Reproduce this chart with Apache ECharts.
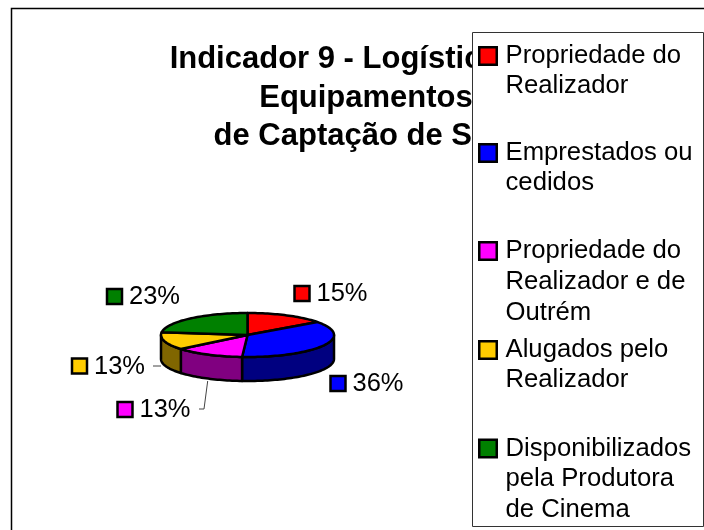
<!DOCTYPE html>
<html><head><meta charset="utf-8">
<style>html,body{margin:0;padding:0;background:#fff}#c{width:704px;height:530px}</style>
<script src="https://cdn.jsdelivr.net/npm/echarts@6/dist/echarts.min.js"></script>
</head><body><div id="c"></div>
<script>
const titleLines = ['Indicador 9 - Logística dos', 'Equipamentos', 'de Captação de Som'];
const categories = ['Propriedade do\nRealizador', 'Emprestados ou\ncedidos', 'Propriedade do\nRealizador e de\nOutrém', 'Alugados pelo\nRealizador', 'Disponibilizados\npela Produtora\nde Cinema'];
const values = [15, 36, 13, 13, 23];
const topColors = ['#FF0000', '#0000FF', '#FF00FF', '#FFCC00', '#008000'];
const sideColors = ['#800000', '#000080', '#800080', '#806600', '#004000'];

// layout, kept apart from the data
const pie = { cx: 247.5, cy: 335, rx: 86.5, ry: 22, depth: 24 };
const labelKeys = [[302, 293.5], [338, 383.5], [125, 409.5], [79.5, 366], [114.5, 296.5]];
const leaders = [null, null, [[207.7, 381], [204, 409], [199, 409]], [[153, 366], [161, 366]], null];
const legendRows = [[29, 30, 30], [29, 30, 30], [31, 31, 30], [29, 30, 31], [30, 31, 30]];
const FONT = '"Liberation Sans", Arial, sans-serif';

const total = values.reduce((a, b) => a + b, 0);
function startAngle(i) {
  let s = 0;
  for (let k = 0; k < i; k++) s += values[k];
  return s / total * Math.PI * 2;
}
function pt(t, dy) {
  return [pie.cx + pie.rx * Math.sin(t), pie.cy - pie.ry * Math.cos(t) + (dy || 0)];
}
function arc(a, b, dy) {
  const n = Math.max(2, Math.ceil(Math.abs(b - a) / 0.03));
  const out = [];
  for (let k = 0; k <= n; k++) out.push(pt(a + (b - a) * k / n, dy));
  return out;
}
function renderSlice(i) {
  return function (params, api) {
    const a0 = startAngle(i);
    const a1 = a0 + api.value(0) / total * Math.PI * 2;
    const children = [];
    const s = Math.max(a0, Math.PI / 2), e = Math.min(a1, Math.PI * 1.5);
    if (e > s) {
      children.push({
        type: 'polygon',
        shape: { points: arc(s, e, 0).concat(arc(e, s, pie.depth)) },
        style: { fill: sideColors[i], stroke: '#000', lineWidth: 2.5, lineJoin: 'round' }
      });
    }
    children.push({
      type: 'polygon',
      shape: { points: [[pie.cx, pie.cy]].concat(arc(a0, a1, 0)) },
      style: { fill: topColors[i], stroke: '#000', lineWidth: 2.5, lineJoin: 'round' }
    });
    if (leaders[i]) {
      children.push({ type: 'polyline', shape: { points: leaders[i] }, style: { fill: null, stroke: '#444', lineWidth: 1 } });
    }
    const k = labelKeys[i];
    children.push({
      type: 'rect', shape: { x: k[0] - 7.5, y: k[1] - 7.5, width: 15, height: 15 },
      style: { fill: topColors[i], stroke: '#000', lineWidth: 2.5 }
    });
    children.push({
      type: 'text',
      style: { x: k[0] + 14.5, y: k[1] + 0.5, text: api.value(0) + '%', fill: '#000', font: '25.5px ' + FONT, verticalAlign: 'middle', align: 'left' }
    });
    return { type: 'group', children: children };
  };
}

const rich = { g: { width: 10 } };
[29, 30, 31].forEach(h => {
  rich['t' + h] = { width: 198, fontSize: 25.7, fontFamily: FONT, color: '#000', lineHeight: h, height: h };
  rich['p' + h] = { width: 25, height: h, lineHeight: h };
});
topColors.forEach((c, i) => {
  rich['k' + i] = { width: 15, height: 15, backgroundColor: c, borderColor: '#000', borderWidth: 2.5 };
});

const chart = echarts.init(document.getElementById('c'), null, { renderer: 'canvas' });
chart.setOption({
  animation: false,
  backgroundColor: '#fff',
  graphic: [{
    type: 'polyline', silent: true, z: -1,
    shape: { points: [[11.5, 530], [11.5, 8.5], [704, 8.5]] },
    style: { fill: null, stroke: '#000', lineWidth: 1.5 }
  }],
  title: {
    text: titleLines.join('\n'),
    left: 361, top: 35.5, textAlign: 'center', z: 1,
    textStyle: { fontFamily: FONT, fontWeight: 'bold', fontSize: 31, lineHeight: 38.5, color: '#000' }
  },
  legend: {
    orient: 'vertical', left: 472.5, top: 32.5, z: 5,
    padding: [9, 0, 2, 3], itemGap: 8, itemWidth: 0, itemHeight: 14, icon: 'none',
    selectedMode: false, backgroundColor: '#fff', borderColor: '#333', borderWidth: 1,
    data: categories,
    formatter: function (name) {
      const i = categories.indexOf(name);
      const lines = name.split('\n');
      const hs = legendRows[i];
      const rows = lines.map((l, n) => n === 0 ? `{k${i}|}{g|}{t${hs[n]}|${l}}` : `{p${hs[n]}|}{t${hs[n]}|${l}}`);
      if (rows.length < 3) rows.push(`{p${hs[2]}|}{t${hs[2]}| }`);
      return rows.join('\n');
    },
    textStyle: { rich: rich }
  },
  tooltip: { show: false },
  series: categories.map((name, i) => ({
    type: 'custom', name: name, coordinateSystem: 'none', z: 2, silent: true,
    data: [[values[i]]],
    renderItem: renderSlice(i)
  }))
});
</script></body></html>
